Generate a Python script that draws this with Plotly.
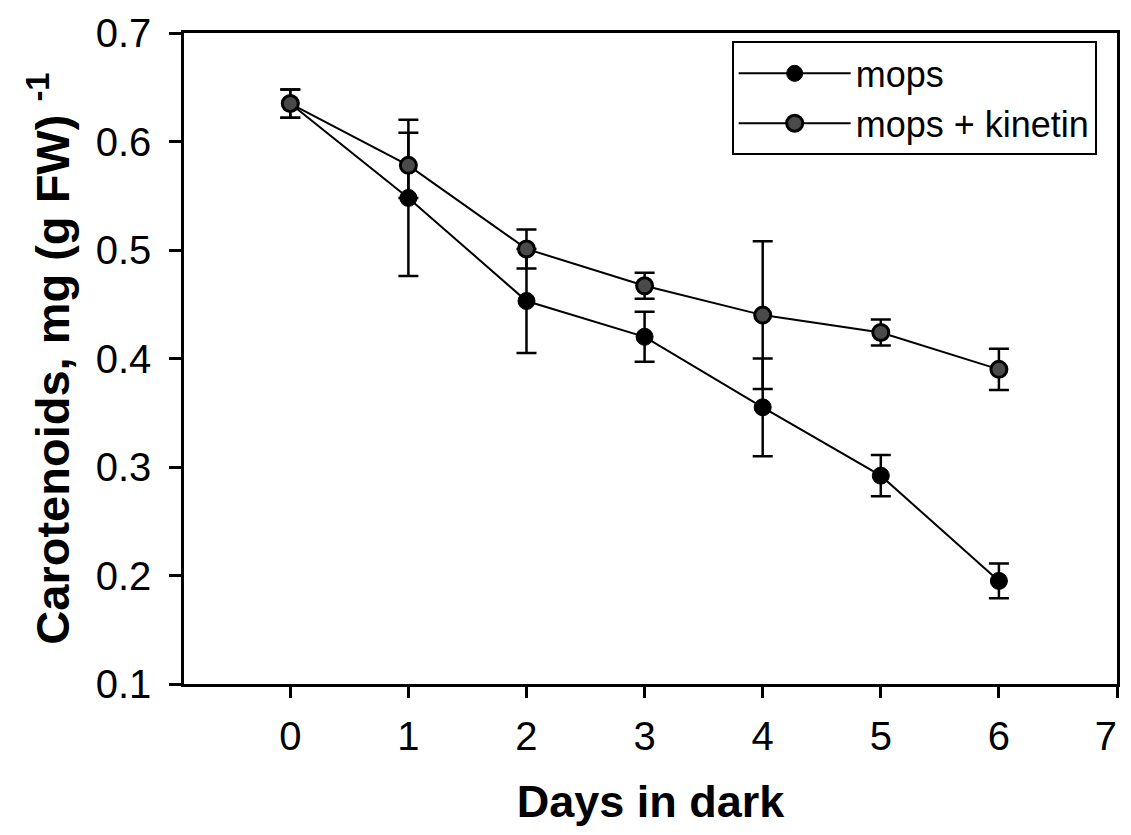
import plotly.graph_objects as go

days = [0, 1, 2, 3, 4, 5, 6]
mops = [0.635, 0.548, 0.453, 0.420, 0.355, 0.292, 0.195]
mops_err = [0.013, 0.072, 0.048, 0.023, 0.045, 0.019, 0.016]
kin = [0.635, 0.578, 0.501, 0.467, 0.440, 0.424, 0.390]
kin_err = [0.013, 0.030, 0.018, 0.012, 0.068, 0.012, 0.019]

x_ticks = [0, 1, 2, 3, 4, 5, 6, 7]
y_ticks = [0.1, 0.2, 0.3, 0.4, 0.5, 0.6, 0.7]

FONT = "Liberation Sans, Arial, Helvetica, sans-serif"

# last x tick label sits at the right frame edge; pad it so it stays inside the page
x_ticktext = [str(v) for v in x_ticks]
x_ticktext[-1] = x_ticktext[-1] + "\u00a0\u00a0"

fig = go.Figure()
fig.add_trace(go.Scatter(
    x=days, y=mops, mode="lines+markers", name="mops",
    line=dict(color="black", width=2),
    marker=dict(color="black", size=17, line=dict(color="black", width=1)),
    error_y=dict(type="data", array=mops_err, visible=True,
                 color="black", thickness=2.5, width=10),
))
fig.add_trace(go.Scatter(
    x=days, y=kin, mode="lines+markers", name="mops + kinetin",
    line=dict(color="black", width=2),
    marker=dict(color="#4a4a4a", size=16, line=dict(color="black", width=3)),
    error_y=dict(type="data", array=kin_err, visible=True,
                 color="black", thickness=2.5, width=10),
))

fig.update_layout(
    width=1115, height=819,
    margin=dict(l=176, r=6, t=25, b=143, autoexpand=False),
    paper_bgcolor="white", plot_bgcolor="white",
    font=dict(family=FONT, color="black"),
    showlegend=True,
    legend=dict(
        x=0.587, y=0.987, xanchor="left", yanchor="top",
        bordercolor="black", borderwidth=2, bgcolor="white",
        font=dict(size=36, family=FONT, color="black"),
        itemwidth=112, tracegroupgap=0,
    ),
)
fig.update_xaxes(
    range=[-0.9, 7], tickvals=x_ticks, ticktext=x_ticktext,
    automargin=False, ticklabeloverflow="allow",
    showgrid=False, zeroline=False,
    showline=True, linecolor="black", linewidth=2.5, mirror=True,
    ticks="outside", ticklen=11, tickwidth=2.5, tickcolor="black",
    tickfont=dict(size=40, family=FONT, color="black"),
    ticklabelstandoff=4,
    title=dict(text="<b>Days in dark</b>", font=dict(size=45, family=FONT, color="black"), standoff=35),
)
fig.update_yaxes(
    range=[0.1, 0.7], tickvals=y_ticks, ticktext=[f"{v:.1f}" for v in y_ticks],
    automargin=False,
    showgrid=False, zeroline=False,
    showline=True, linecolor="black", linewidth=2.5, mirror=True,
    ticks="outside", ticklen=12, tickwidth=2.5, tickcolor="black",
    tickfont=dict(size=40, family=FONT, color="black"),
    ticklabelstandoff=10,
    title=dict(text="<b>Carotenoids, mg (g FW) <sup>-1</sup></b>", font=dict(size=47, family=FONT, color="black"), standoff=12),
)

fig.write_html("out.html")
